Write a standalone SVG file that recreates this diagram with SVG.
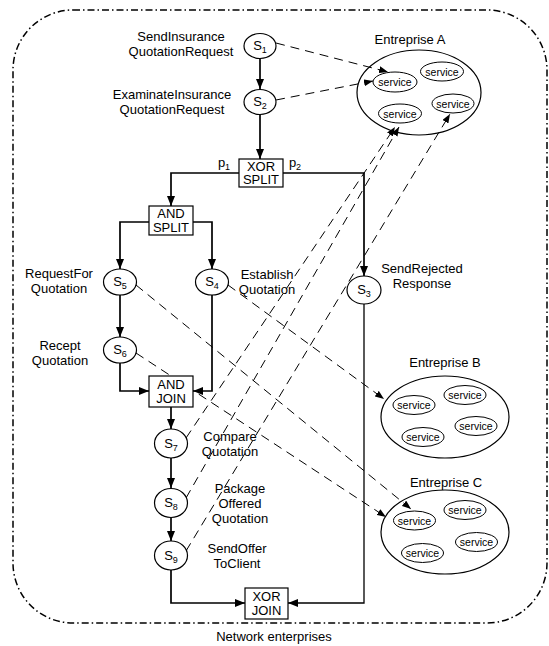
<svg xmlns="http://www.w3.org/2000/svg" width="549" height="646" viewBox="0 0 549 646">
<style>
text{font-family:"Liberation Sans",Arial,sans-serif;fill:#000}
.lbl{font-size:13px;text-anchor:middle}
.sv{font-size:10.5px;text-anchor:middle}
.task{fill:#fff;stroke:#000;stroke-width:1.2}
.box{fill:#fff;stroke:#000;stroke-width:1.2}
.ent{fill:none;stroke:#000;stroke-width:1.2}
.svc{fill:#fff;stroke:#000;stroke-width:1}
.flow{fill:none;stroke:#000;stroke-width:1.7;marker-end:url(#ah)}
.map{fill:none;stroke:#000;stroke-width:1;stroke-dasharray:9,6;marker-end:url(#ahs)}
</style>
<defs>
<marker id="ah" markerUnits="userSpaceOnUse" markerWidth="10" markerHeight="8" refX="10" refY="4" orient="auto"><path d="M0,0 L10,4 L0,8 z" fill="#000"/></marker>
<marker id="ahs" markerUnits="userSpaceOnUse" markerWidth="9" markerHeight="7" refX="9" refY="3.5" orient="auto"><path d="M0,0 L9,3.5 L0,7 z" fill="#000"/></marker>
</defs>
<rect x="13" y="10" width="534" height="613" rx="60" ry="60" fill="none" stroke="#000" stroke-width="1.5" stroke-dasharray="7,3,1.5,3"/>
<text class="lbl" x="274" y="641">Network enterprises</text>

<g id="connectors">
<path class="flow" d="M260,58.5 L260,89"/>
<path class="flow" d="M260,115 L260,159"/>
<path class="flow" d="M239,173 L171,173 L171,206"/>
<path class="flow" d="M283,173 L364,173 L364,276"/>
<path class="flow" d="M149,222 L120,222 L120,269"/>
<path class="flow" d="M193,222 L212,222 L212,269"/>
<path class="flow" d="M120,295 L120,337"/>
<path class="flow" d="M120,363 L120,391 L149,391"/>
<path class="flow" d="M212,295 L212,391 L193,391"/>
<path class="flow" d="M171,407 L171,429"/>
<path class="flow" d="M171,458 L171,488"/>
<path class="flow" d="M171,518 L171,541"/>
<path class="flow" d="M171,570 L171,603 L245,603"/>
<path class="flow" style="stroke-width:1.3" d="M364,304 L364,603 L288,603"/>
<path class="map" d="M276,43 L388,72"/>
<path class="map" d="M276,100 L373,81"/>
<path class="map" d="M228,285 L384,399"/>
<path class="map" d="M136,285 L411,509"/>
<path class="map" d="M136,353 L386,517"/>
<path class="map" d="M186,438 L395,127"/>
<path class="map" d="M186,498 L399,127"/>
<path class="map" d="M186,551 L450,114"/>
</g>

<g id="S1"><ellipse class="task" cx="260" cy="46" rx="16" ry="12.5"/><text class="lbl" x="260" y="50">S<tspan font-size="9" dy="3">1</tspan></text>
<text class="lbl" x="181" y="41">SendInsurance</text><text class="lbl" x="181" y="56">QuotationRequest</text></g>
<g id="S2"><ellipse class="task" cx="260" cy="102" rx="16" ry="12.5"/><text class="lbl" x="260" y="106">S<tspan font-size="9" dy="3">2</tspan></text>
<text class="lbl" x="172" y="99">ExaminateInsurance</text><text class="lbl" x="172" y="114">QuotationRequest</text></g>
<g id="XORSPLIT"><rect class="box" x="239" y="159" width="44" height="28"/><text class="lbl" x="261" y="170.5">XOR</text><text class="lbl" x="261" y="184">SPLIT</text>
<text class="lbl" x="224" y="167">p<tspan font-size="9" dy="3">1</tspan></text><text class="lbl" x="295" y="167">p<tspan font-size="9" dy="3">2</tspan></text></g>
<g id="ANDSPLIT"><rect class="box" x="149" y="206" width="44" height="29"/><text class="lbl" x="171" y="218">AND</text><text class="lbl" x="171" y="231.5">SPLIT</text></g>
<g id="S5"><ellipse class="task" cx="120" cy="282" rx="16.5" ry="13"/><text class="lbl" x="120" y="286">S<tspan font-size="9" dy="3">5</tspan></text>
<text class="lbl" x="59" y="278">RequestFor</text><text class="lbl" x="59" y="293">Quotation</text></g>
<g id="S4"><ellipse class="task" cx="212" cy="282" rx="16.5" ry="13"/><text class="lbl" x="212" y="286">S<tspan font-size="9" dy="3">4</tspan></text>
<text class="lbl" x="267" y="279">Establish</text><text class="lbl" x="267" y="294">Quotation</text></g>
<g id="S6"><ellipse class="task" cx="120" cy="350" rx="16.5" ry="13"/><text class="lbl" x="120" y="354">S<tspan font-size="9" dy="3">6</tspan></text>
<text class="lbl" x="60" y="350">Recept</text><text class="lbl" x="60" y="365">Quotation</text></g>
<g id="S3"><ellipse class="task" cx="364" cy="290" rx="17" ry="14"/><text class="lbl" x="364" y="294">S<tspan font-size="9" dy="3">3</tspan></text>
<text class="lbl" x="422" y="273">SendRejected</text><text class="lbl" x="422" y="288">Response</text></g>
<g id="ANDJOIN"><rect class="box" x="149" y="376" width="44" height="31"/><text class="lbl" x="171" y="389">AND</text><text class="lbl" x="171" y="403">JOIN</text></g>
<g id="S7"><ellipse class="task" cx="171" cy="443.5" rx="16.5" ry="14.5"/><text class="lbl" x="171" y="447.5">S<tspan font-size="9" dy="3">7</tspan></text>
<text class="lbl" x="230" y="441">Compare</text><text class="lbl" x="230" y="456">Quotation</text></g>
<g id="S8"><ellipse class="task" cx="171" cy="503" rx="16.5" ry="14.5"/><text class="lbl" x="171" y="507">S<tspan font-size="9" dy="3">8</tspan></text>
<text class="lbl" x="240" y="493">Package</text><text class="lbl" x="240" y="508">Offered</text><text class="lbl" x="240" y="523">Quotation</text></g>
<g id="S9"><ellipse class="task" cx="171" cy="555.5" rx="16.5" ry="14.5"/><text class="lbl" x="171" y="559.5">S<tspan font-size="9" dy="3">9</tspan></text>
<text class="lbl" x="237" y="553">SendOffer</text><text class="lbl" x="237" y="568">ToClient</text></g>
<g id="XORJOIN"><rect class="box" x="245" y="588" width="43" height="31"/><text class="lbl" x="266.5" y="601">XOR</text><text class="lbl" x="266.5" y="615">JOIN</text></g>

<g id="EntrepriseA"><text class="lbl" x="410" y="44">Entreprise A</text><ellipse class="ent" cx="419" cy="92.5" rx="62" ry="42.5"/>
<ellipse class="svc" cx="395" cy="82" rx="22" ry="10"/><text class="sv" x="395" y="86">service</text>
<ellipse class="svc" cx="442" cy="71.5" rx="21.5" ry="9.5"/><text class="sv" x="442" y="75.5">service</text>
<ellipse class="svc" cx="400" cy="113.5" rx="21.5" ry="9.5"/><text class="sv" x="400" y="117.5">service</text>
<ellipse class="svc" cx="453" cy="103.5" rx="21" ry="9.5"/><text class="sv" x="453" y="107.5">service</text></g>
<g id="EntrepriseB"><text class="lbl" x="445" y="367">Entreprise B</text><ellipse class="ent" cx="445" cy="417" rx="64" ry="41"/>
<ellipse class="svc" cx="414" cy="405" rx="21" ry="9.5"/><text class="sv" x="414" y="409">service</text>
<ellipse class="svc" cx="465" cy="395" rx="21" ry="9.5"/><text class="sv" x="465" y="399">service</text>
<ellipse class="svc" cx="476" cy="426" rx="21" ry="9.5"/><text class="sv" x="476" y="430">service</text>
<ellipse class="svc" cx="423" cy="437" rx="21" ry="9.5"/><text class="sv" x="423" y="441">service</text></g>
<g id="EntrepriseC"><text class="lbl" x="446" y="487">Entreprise C</text><ellipse class="ent" cx="445" cy="532" rx="64" ry="42"/>
<ellipse class="svc" cx="414.5" cy="520.5" rx="21" ry="9.5"/><text class="sv" x="414.5" y="524.5">service</text>
<ellipse class="svc" cx="465" cy="510" rx="21" ry="9.5"/><text class="sv" x="465" y="514">service</text>
<ellipse class="svc" cx="476.5" cy="542" rx="21" ry="9.5"/><text class="sv" x="476.5" y="546">service</text>
<ellipse class="svc" cx="422.5" cy="553" rx="21" ry="9.5"/><text class="sv" x="422.5" y="557">service</text></g>
</svg>
